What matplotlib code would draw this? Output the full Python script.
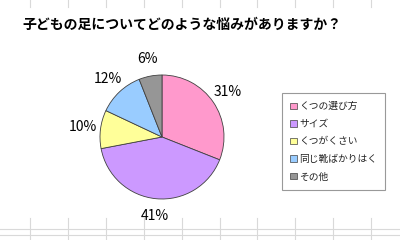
import matplotlib
matplotlib.use("Agg")
import matplotlib.pyplot as plt
from matplotlib.lines import Line2D

plt.rcParams['font.family'] = ['Noto Sans CJK JP', 'DejaVu Sans']

title = "子どもの足についてどのような悩みがありますか？"
categories = ["くつの選び方", "サイズ", "くつがくさい", "同じ靴ばかりはく", "その他"]
values = [31, 41, 10, 12, 6]
colors = ["#FF99CC", "#CC99FF", "#FFFF99", "#99CCFF", "#969696"]

W, H = 400, 240
fig = plt.figure(figsize=(W / 100, H / 100), dpi=100)
fig.patch.set_facecolor("white")

# spreadsheet grid decoration (top and bottom strips)
grid_x = [30, 68, 106, 144, 182, 220, 257, 295, 333, 371]
gc = "#d9d9d9"
for gx in grid_x:
    fig.add_artist(Line2D([gx / W, gx / W], [1, 1 - 7 / H], color=gc, lw=0.8))
    fig.add_artist(Line2D([gx / W, gx / W], [1 - 218 / H, 0], color=gc, lw=0.8))
for gy in [229, 235]:
    fig.add_artist(Line2D([0, 1], [1 - gy / H, 1 - gy / H], color=gc, lw=0.8))

fig.text(22 / W, 1 - 25 / H, title, fontsize=10, fontweight="bold",
         ha="left", va="center", color="black")

cx, cy, r = 162, 137, 62
ax = fig.add_axes([(cx - r) / W, (H - cy - r) / H, 2 * r / W, 2 * r / H])
wedges, texts, autotexts = ax.pie(
    values, colors=colors, startangle=90, counterclock=False,
    autopct=lambda p: f"{p:.0f}%", pctdistance=1.28,
    wedgeprops=dict(edgecolor="#404040", linewidth=0.6),
    textprops=dict(fontsize=10, color="black"))
ax.set_xlim(-1, 1)
ax.set_ylim(-1, 1)
ax.set_aspect("auto")
ax.axis("off")

leg = fig.legend(wedges, categories, loc="upper left",
                 bbox_to_anchor=(282 / W, 1 - 93 / H),
                 fontsize=7, frameon=True, fancybox=False,
                 edgecolor="#808080", handlelength=0.65, handleheight=0.65,
                 handletextpad=0.25, labelspacing=0.78, borderpad=0.85,
                 borderaxespad=0)
leg.get_frame().set_linewidth(0.8)
for t in leg.get_texts():
    t.set_color("#222222")
for h in leg.legend_handles:
    h.set_edgecolor("#404040")
    h.set_linewidth(0.5)

fig.savefig("out.png", dpi=100, facecolor="white")
